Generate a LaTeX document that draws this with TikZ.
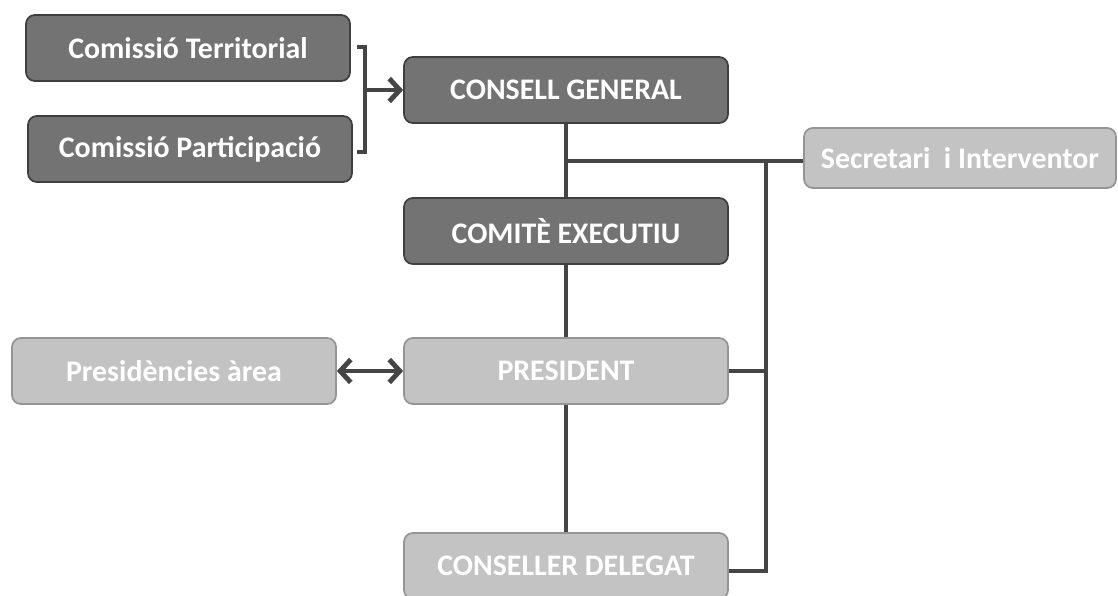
\documentclass[tikz,border=0pt]{standalone}
\usepackage{fontspec}
\setmainfont{Carlito}
\usepackage{xcolor}
\usetikzlibrary{positioning, calc, arrows.meta}

\definecolor{darkfill}{HTML}{737373}
\definecolor{darkedge}{HTML}{3F3F3F}
\definecolor{lightfill}{HTML}{C3C3C3}
\definecolor{lightedge}{HTML}{959595}
\definecolor{linkgray}{HTML}{454545}

\begin{document}
\begin{tikzpicture}[x=0.02cm, y=-0.02cm,
            darkbox/.style={rectangle, rounded corners=5pt, draw=darkedge, fill=darkfill, line width=1pt, minimum width=6.48cm, minimum height=1.32cm, align=center, text=white, font=\fontsize{17}{19}\selectfont\bfseries},
            lightbox/.style={darkbox, draw=lightedge, fill=lightfill},
            link/.style={draw=linkgray, line width=2.8pt},
            barb/.style={link, arrows={-Straight Barb[length=6pt, width=13pt]}}
        ]
            \useasboundingbox (0,0) rectangle (1118,595);

% Councils and commissions
            \node[darkbox] (terr) at (188,48) {Comissió Territorial};
            \node[darkbox] (part) at (190,149) {Comissió Participació};
            \node[darkbox] (consell) at (566,90) {CONSELL GENERAL};
            \node[darkbox] (comite) at (566,231) {COMITÈ EXECUTIU};

% Presidency
            \node[lightbox] (pres) at (566,371) {PRESIDENT};
            \node[lightbox] (presarea) at (174,371) {Presidències àrea};
            \node[lightbox] (conseller) at (566,566) {CONSELLER DELEGAT};
            \node[lightbox, minimum width=6.24cm, minimum height=1.2cm] (secr) at (960,158) {Secretari\ \ i Interventor};

% Bracket of the commissions
            \coordinate (brtop) at (365,47);
            \coordinate (brbot) at (365,152);
            \draw[link, line width=2.2pt] ($(brtop)+(-8,0)$) -- (brtop) -- (brbot) -- ++(-8,0);
            \draw[barb] (brtop |- consell.west) -- (consell.west);

% Main line
            \draw[link] (consell) -- (comite);
            \draw[link] (comite) -- (pres);
            \draw[link] (pres) -- (conseller);
            \draw[link, arrows={Straight Barb[length=6pt, width=13pt]-Straight Barb[length=6pt, width=13pt]}] (presarea) -- (pres);

% Secretary branch
            \coordinate (tap) at (566,161);
            \coordinate (bus) at (766,161);
            \draw[link] (tap) -- (tap -| secr.west);
            \draw[link] (pres.east) -- (pres.east -| bus);
            \draw[link] ([yshift=-0.1cm]conseller.east) -| (bus);

        \end{tikzpicture}
\end{document}
